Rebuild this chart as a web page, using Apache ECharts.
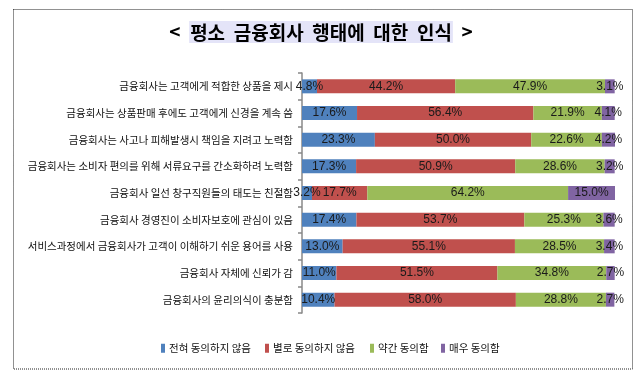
<!DOCTYPE html>
<html><head><meta charset="utf-8">
<script src="https://cdn.jsdelivr.net/npm/echarts@6/dist/echarts.min.js"></script>
<style>html,body{margin:0;padding:0;background:#fff}#c{width:642px;height:375px}</style>
</head><body><div id="c"></div>
<script>
const categories = [
  '금융회사는 고객에게 적합한 상품을 제시',
  '금융회사는 상품판매 후에도 고객에게 신경을 계속 씀',
  '금융회사는 사고나 피해발생시 책임을 지려고 노력함',
  '금융회사는 소비자 편의를 위해 서류요구를 간소화하려 노력함',
  '금융회사 일선 창구직원들의 태도는 친절함',
  '금융회사 경영진이 소비자보호에 관심이 있음',
  '서비스과정에서 금융회사가 고객이 이해하기 쉬운 용어를 사용',
  '금융회사 자체에 신뢰가 감',
  '금융회사의 윤리의식이 충분함'
];
const seriesNames = ['전혀 동의하지 않음', '별로 동의하지 않음', '약간 동의함', '매우 동의함'];
const stronglyDisagree = [4.8, 17.6, 23.3, 17.3, 3.2, 17.4, 13.0, 11.0, 10.4];
const disagree = [44.2, 56.4, 50.0, 50.9, 17.7, 53.7, 55.1, 51.5, 58.0];
const agree = [47.9, 21.9, 22.6, 28.6, 64.2, 25.3, 28.5, 34.8, 28.8];
const stronglyAgree = [3.1, 4.1, 4.2, 3.2, 15.0, 3.6, 3.4, 2.7, 2.7];
const colors = ['#4F81BD', '#C0504D', '#9BBB59', '#8064A2'];
const values = [stronglyDisagree, disagree, agree, stronglyAgree];
const legendX = [156, 260, 365, 436];

const chart = echarts.init(document.getElementById('c'));
const KFONT = '"Noto Sans CJK KR", "Noto Sans", sans-serif';
chart.setOption({
  animation: false,
  backgroundColor: '#fff',
  title: {
    text: '<  {h|평소  금융회사  행태에  대한  인식}  >',
    left: 'center',
    top: 16,
    textStyle: {
      fontFamily: KFONT, fontSize: 19, fontWeight: 'bold', color: '#000',
      rich: {
        h: { fontFamily: KFONT, fontSize: 19, fontWeight: 'bold', color: '#000',
             backgroundColor: '#E4E4F8', padding: [2, 1, 1, 1] }
      }
    }
  },
  graphic: [{
    type: 'rect', shape: { x: 13.5, y: 9.5, width: 619, height: 359.5 },
    style: { fill: 'none', stroke: '#222', lineWidth: 1, lineDash: [1, 1] }, silent: true
  }],
  legend: seriesNames.map((n, i) => ({
    data: [n], left: legendX[i], top: 338, itemWidth: 4, itemHeight: 9, itemGap: 4,
    icon: 'rect', textStyle: { fontFamily: KFONT, fontSize: 10.5, color: '#111', padding: [0, 0, 0, -1] }
  })),
  grid: { left: 302, right: 27, top: 73, bottom: 62, containLabel: false },
  xAxis: { type: 'value', min: 0, max: 100.1, show: false },
  yAxis: {
    type: 'category', data: categories, inverse: true,
    axisLine: { show: true, lineStyle: { color: '#888', width: 1.5 } },
    axisTick: { show: true, length: 4, lineStyle: { color: '#888', width: 1.5 } },
    axisLabel: { margin: 9, fontFamily: KFONT, fontSize: 10.5, color: '#111' }
  },
  series: seriesNames.map((n, i) => ({
    name: n, type: 'bar', stack: 'total', data: values[i], barWidth: 14,
    itemStyle: { color: colors[i] },
    label: {
      show: true, position: 'inside', formatter: p => p.value.toFixed(1) + '%',
      fontFamily: '"Liberation Sans Narrow", "Liberation Sans", sans-serif', fontSize: 12, color: '#1a1a1a'
    }
  }))
});
</script></body></html>
